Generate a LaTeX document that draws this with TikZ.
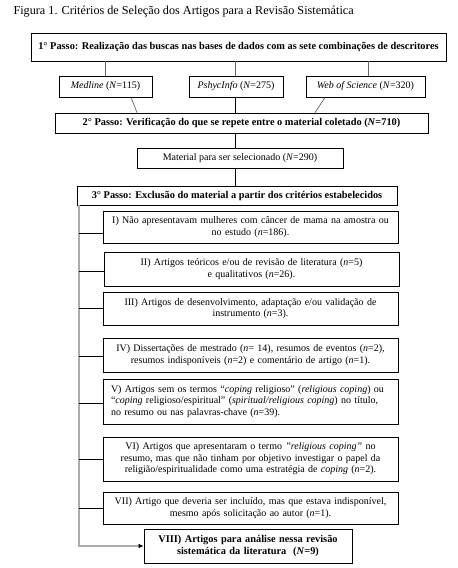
\documentclass[tikz,border=0pt]{standalone}
\usepackage{fontspec}
\setmainfont{Liberation Serif}
\usetikzlibrary{arrows.meta}
\begin{document}
\begin{tikzpicture}[x=1pt,y=1pt,
  every node/.style={font=\fontsize{10}{11.5}\selectfont},
  box/.style={draw,line width=0.8pt,inner sep=0pt,align=center},
  boldbox/.style={box,font=\fontsize{10.35}{11.5}\selectfont\bfseries},
  crit/.style={box,minimum width=295pt,text width=285pt},
  thin/.style={line width=0.7pt,gray!80!black},
  conn/.style={line width=0.7pt,black},
  spine/.style={line width=1.4pt,gray!65}
]
\useasboundingbox (0,0) rectangle (458,-568);
\node[anchor=base west,font=\fontsize{12.2}{13}\selectfont] (title) at (10,-14.5) {Figura 1. Critérios de Seleção dos Artigos para a Revisão Sistemática};

\node[boldbox,minimum width=415pt,minimum height=28pt] (b1) at (238.5,-47) {1° Passo: Realização das buscas nas bases de dados com as sete combinações de descritores};
\node[box,minimum width=93pt,minimum height=21pt] (m) at (105.5,-86.5) {\textit{Medline} (\textit{N}=115)};
\node[box,minimum width=94pt,minimum height=21pt] (p) at (236,-86.5) {\textit{PshycInfo} (\textit{N}=275)};
\node[box,minimum width=119pt,minimum height=21pt] (w) at (365.5,-86.5) {\textit{Web of Science} (\textit{N}=320)};
\node[boldbox,minimum width=373pt,minimum height=20pt] (b2) at (241.5,-123) {2° Passo: Verificação do que se repete entre o material coletado (\textit{N}=710)};
\node[box,minimum width=206pt,minimum height=20pt] (mat) at (240,-158) {Material para ser selecionado (\textit{N}=290)};
\node[boldbox,minimum width=320pt,minimum height=19pt] (b3) at (237,-195.5) {3° Passo: Exclusão do material a partir dos critérios estabelecidos};

\node[crit,minimum height=32pt] (c1) at (250.5,-227) {I) Não apresentavam mulheres com câncer de mama na amostra ou\\ no estudo (\textit{n}=186).};
\node[crit,minimum height=34pt] (c2) at (251.5,-269) {II) Artigos teóricos e/ou de revisão de literatura (\textit{n}=5)\\ e qualitativos (\textit{n}=26).};
\node[crit,minimum height=33pt] (c3) at (250.5,-308.5) {III) Artigos de desenvolvimento, adaptação e/ou validação de\\ instrumento (\textit{n}=3).};
\node[crit,minimum height=34pt] (c4) at (250.5,-355) {IV) Dissertações de mestrado (\textit{n}= 14), resumos de eventos (\textit{n}=2),\\ resumos indisponíveis (\textit{n}=2) e comentário de artigo (\textit{n}=1).};
\node[crit,minimum height=45pt,align=left,text width=279pt] (c5) at (250.5,-401.5) {V) Artigos sem os termos “\textit{coping} religioso” (\textit{religious coping}) ou\\ “\textit{coping} religioso/espiritual” (\textit{spiritual/religious coping}) no título,\\ no resumo ou nas palavras-chave (\textit{n}=39).};
\node[crit,minimum height=44pt] (c6) at (250.5,-459) {VI) Artigos que apresentaram o termo \textit{"religious coping"} no\\ resumo, mas que não tinham por objetivo investigar o papel da\\ religião/espiritualidade como uma estratégia de \textit{coping} (\textit{n}=2).};
\node[crit,minimum height=32pt] (c7) at (250.5,-508) {VII) Artigo que deveria ser incluído, mas que estava indisponível,\\ mesmo após solicitação ao autor (\textit{n}=1).};
\node[boldbox,minimum width=208pt,minimum height=34pt,text width=200pt] (c8) at (248,-546) {VIII) Artigos para análise nessa revisão\\ sistemática da literatura\ \ (\textit{N}=9)};

\coordinate (sp) at (79,-205);

% step 1 to databases
\draw[thin] (b1.south -| m.north) -- (m.north);
\draw[thin] ([xshift=-1pt]b1.south -| p.north) -- ([xshift=-1pt]p.north);
\draw[thin] ([xshift=2.5pt]b1.south -| w.north) -- ([xshift=2.5pt]w.north);
% databases to step 2
\draw[thin] ([xshift=25.5pt]m.south) -- ([xshift=-104.5pt]b2.north);
\draw[conn] ([xshift=-1pt]p.south) -- ([xshift=-1pt]p.south |- b2.north);
\draw[thin] ([xshift=-40.5pt]w.south) -- ([xshift=73.5pt]b2.north);
% step 2 to material to step 3
\draw[conn] ([xshift=-5pt]mat.north |- b2.south) -- ([xshift=-5pt]mat.north);
\draw[conn] ([xshift=-5pt]mat.south) -- ([xshift=-5pt]mat.south |- b3.north);
% spine
\draw[spine] (sp) -- (sp |- c8.west) -- ([xshift=-4pt]c8.west);
\draw[-{Latex[length=5pt,width=4.5pt]},line width=0.7pt] ([xshift=-5pt]c8.west) -- (c8.west);
\draw[conn] (sp |- c1.west) ++(0,-6) -- ([yshift=-6pt]c1.west);
\draw[conn] ([yshift=-2pt]sp |- c2.west) -- ([yshift=-2pt]c2.west);
\draw[conn] (sp |- c3.west) -- (c3.west);
\draw[conn] ([yshift=-1pt]sp |- c4.west) -- ([yshift=-1pt]c4.west);
\draw[conn] ([yshift=-1.5pt]sp |- c5.west) -- ([yshift=-1.5pt]c5.west);
\draw[conn] (sp |- c6.west) -- (c6.west);
\draw[conn] (sp |- c7.west) -- (c7.west);
\end{tikzpicture}
\end{document}
